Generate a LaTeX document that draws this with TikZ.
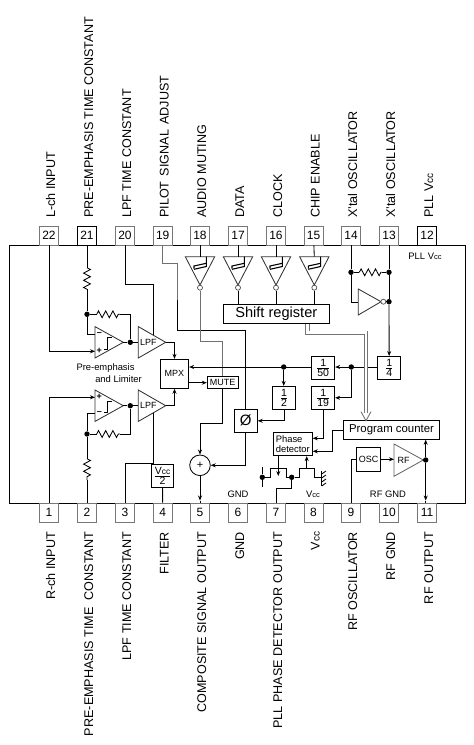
\documentclass[tikz,border=0pt]{standalone}
\usepackage{graphicx}
\usepackage{fontspec}
\setmainfont{Liberation Sans}
\usetikzlibrary{arrows.meta,calc,decorations.pathmorphing}
\newcommand{\fs}[1]{\fontsize{#1}{#1}\selectfont}
\newcommand{\vcc}{V\scalebox{0.8}{cc}}
\newcommand{\ratio}[2]{$\frac{\mbox{#1}}{\mbox{#2}}$}
\definecolor{pinline}{HTML}{777777}
\definecolor{dimline}{HTML}{707070}
\tikzset{
  wire/.style={line width=0.85pt},
  dimwire/.style={line width=0.9pt, draw=dimline},
  flow/.style={-{Stealth[length=5pt,width=4pt]}, line width=0.85pt},
  res/.style={line width=0.85pt, decorate, decoration={zigzag,segment length=7.2pt,amplitude=3.4pt}},
  chipbox/.style={draw, line width=0.9pt, minimum width=455.5pt, minimum height=258pt, inner sep=0pt},
  pinbox/.style={draw=#1, fill=white, line width=0.9pt, minimum width=19pt, minimum height=19pt, inner sep=0pt, font=\fs{12}},
  pinbox/.default=pinline,
  pintext/.style={rotate=90, font=\fs{12.6}, inner sep=0pt, text height=9pt, text depth=0pt},
  block/.style={draw, line width=0.85pt, inner sep=0pt, align=center, font=\fs{9}},
  ratiobox/.style={block, minimum width=23pt, minimum height=23pt, font=\fs{10.5}},
  tag/.style={font=\fs{9.4}, inner sep=0pt},
  tri/.style={draw=black!80, line width=0.85pt},
  junc/.style={circle, fill, inner sep=0pt, minimum size=5.4pt},
  bubble/.style={circle, draw=black!70, fill=white, line width=0.7pt, inner sep=0pt, minimum size=5pt},
  sign/.style={font=\fs{9}\bfseries, inner sep=0pt},
  bus/.style={draw=black!55, line width=0.8pt, double=white, double distance=2.8pt},
  bustip/.style={draw=black!55, line width=0.9pt},
}
\def\pA{49}
\def\pB{87}
\def\pC{125}
\def\pD{162.7}
\def\pE{200}
\def\pF{238}
\def\pG{276}
\def\pH{313.5}
\def\pI{351}
\def\pJ{389}
\def\pK{427}
\newcommand{\toppin}[4][pinline]{%
  \node[pinbox=#1] (t#3) at (#2,235.5) {#3};
  \node[pintext, anchor=west] (lt#3) at (#2+1.5,218) {#4};}
\newcommand{\botpin}[4][pinline]{%
  \node[pinbox=#1] (b#3) at (#2,512.5) {#3};
  \node[pintext, anchor=east] (lb#3) at (#2+1.5,531.7) {#4};}
\newcommand{\schinv}[2]{%
  \begin{scope}[shift={(#2,256.7)}]
    \draw[tri] (-14.7,0) -- (14.7,0) -- (0,28.3) -- cycle;
    \draw[line width=1.1pt] (-6,12) -- (-6,9.3) -- (6.3,6.6); \draw[line width=1.1pt] (-6,12.6) -- (6.3,9.8) -- (6.3,0);
    \coordinate (#1t) at (0,0);
    \node[bubble] (#1b) at (0,31) {};
  \end{scope}}
\newcommand{\opamp}[5]{%
  \begin{scope}[shift={(#2,#3)}]
    \draw[tri] (0,-15.7) -- (0,15.7) -- (28.3,0) -- cycle;
    \draw[wire] (9,6.8) -- (12.5,6.8) -- (12.5,-4.5) -- (16.7,-4.5);
    \coordinate (#1p) at (0,#4); \coordinate (#1m) at (0,#5); \coordinate (#1o) at (28.3,0);
    \node[sign] (#1ps) at (4.3,#4) {+}; \node[sign] (#1ms) at (4.3,#5) {--};
  \end{scope}}
\newcommand{\lpf}[4]{%
  \begin{scope}[shift={(#2,#3)}]
    \draw[tri] (0,-15.7) -- (0,15.7) -- (27.4,0) -- cycle;
    \node[tag, font=\fs{9}, anchor=west] (#1t) at (1.7,0) {LPF};
    \coordinate (#1i) at (0,0); \coordinate (#1o) at (27.4,0); \coordinate (#1c) at (15.4,#4);
  \end{scope}}

\begin{document}
\begin{tikzpicture}[x=1pt,y=-1pt]
  \useasboundingbox (0,0) rectangle (474,745);
  \node[chipbox] (chip) at (237.25,374) {};
  \toppin{\pA}{22}{L-ch INPUT} \toppin[black]{\pB}{21}{PRE-EMPHASIS TIME CONSTANT}
  \toppin{\pC}{20}{LPF TIME CONSTANT} \toppin{\pD}{19}{PILOT\ \hspace{1.7pt}SIGNAL\ \hspace{1.7pt}ADJUST}
  \toppin{\pE}{18}{AUDIO MUTING} \toppin{\pF}{17}{DATA} \toppin{\pG}{16}{CLOCK}
  \toppin{\pH}{15}{CHIP ENABLE} \toppin{\pI}{14}{X'tal OSCILLATOR}
  \toppin{\pJ}{13}{X'tal OSCILLATOR} \toppin[black]{\pK}{12}{PLL \vcc}
  \botpin{\pA}{1}{R-ch INPUT} \botpin{\pB}{2}{PRE-EMPHASIS TIME\ \ CONSTANT}
  \botpin{\pC}{3}{LPF TIME CONSTANT} \botpin{\pD}{4}{FILTER}
  \botpin{\pE}{5}{COMPOSITE SIGNAL OUTPUT} \botpin{\pF}{6}{GND}
  \botpin{\pG}{7}{PLL PHASE DETECTOR OUTPUT} \botpin{\pH}{8}{\vcc}
  \botpin{\pI}{9}{RF OSCILLATOR} \botpin{\pJ}{10}{RF GND} \botpin{\pK}{11}{RF OUTPUT}
  \node[tag] (pllvcc) at (425,256.7) {PLL \vcc};
  \node[tag] (gnd) at (238,494) {GND};
  \node[tag] (vccb) at (313,494) {\vcc};
  \node[tag] (rfgnd) at (388,494) {RF GND};
  \node[tag, font=\fs{9.4}] (pre) at (105.5,368) {Pre-emphasis};
  \node[tag, font=\fs{9.4}] (lim) at (118.5,379) {and Limiter};
  \opamp{upA}{95}{342.3}{9}{-8} \opamp{loA}{95}{405.7}{-8.4}{7.6}
  \lpf{upL}{138.3}{342.3}{-6.9} \lpf{loL}{138.3}{405.7}{6.9}
  \schinv{iE}{\pE} \schinv{iF}{\pF} \schinv{iG}{\pG} \schinv{iH}{314.3}
  \node[block, minimum width=106pt, minimum height=19pt, font=\fs{14.6}] (shift) at (276.3,313.8) {Shift register};
  \node[block, minimum width=28.4pt, minimum height=29pt] (mpx) at (174.5,373.8) {MPX};
  \node[block, minimum width=30.7pt, minimum height=11.6pt] (mute) at (222.6,382.5) {MUTE};
  \node[block, circle, minimum size=20.6pt, font=\fs{11}] (add) at (200,465.3) {+};
  \node[block, minimum width=22.4pt, minimum height=22.6pt, font=\fs{10.5}] (half) at (162.5,476) {\ratio{\vcc}{2}};
  \node[ratiobox] (d4) at (389.2,368) {\ratio{1}{4}};
  \node[ratiobox] (d50) at (323.2,368) {\ratio{1}{50}};
  \node[ratiobox] (d19) at (323.2,397.8) {\ratio{1}{19}};
  \node[ratiobox] (d2) at (284,397.8) {\ratio{1}{2}};
  \node[ratiobox, font=\fs{15}] (phi) at (245.8,420.8) {\O};
  \node[block, minimum width=39pt, minimum height=23.4pt, font=\fs{9.4}, align=left] (pd) at (292.8,444) {Phase\\detector};
  \node[block, minimum width=96.4pt, minimum height=18.6pt, font=\fs{11.4}] (pc) at (391.5,430) {Program counter};
  \node[block, minimum width=24.4pt, minimum height=24pt] (osc) at (368.5,459.3) {OSC};
  \draw[draw=black!60, line width=0.85pt] (394,444) -- (394,476.3) -- (423.3,460) -- cycle;
  \node[tag, font=\fs{9}] (rf) at (403.5,460) {RF};
  \coordinate (rfi) at (394,459.3); \coordinate (rfo) at (423.3,460);
  \node[junc] (jA) at (\pB,314.3) {}; \node[junc] (jB) at (130.3,342.3) {};
  \node[junc] (jC) at (\pB,434) {}; \node[junc] (jD) at (130.3,405.7) {};
  \node[junc] (jE) at (283.7,367) {}; \node[junc] (jF) at (351.3,367) {};
  \node[junc] (jG) at (\pI,272.3) {}; \node[junc] (jH) at (\pJ,272.3) {};
  \node[junc] (jI) at (\pJ,301.7) {}; \node[junc] (jJ) at (425.7,460) {};
  \node[junc] (jK) at (262.3,477.3) {}; \node[junc] (jL) at (291.7,477.3) {};
  \coordinate (rAa) at (\pB,267.7); \coordinate (rAb) at (\pB,289.3);
  \coordinate (rBa) at (96.7,314.3); \coordinate (rBb) at (120,314.3);
  \coordinate (rCa) at (96.7,434); \coordinate (rCb) at (120,434);
  \coordinate (rDa) at (\pB,458.7); \coordinate (rDb) at (\pB,480);
  \coordinate (rEa) at (359.3,272.3); \coordinate (rEb) at (381.7,272.3);
  \draw[flow] (t22) |- (upAp);
  \draw[wire] (t21) -- (rAa); \draw[res] (rAa) -- (rAb); \draw[wire] (rAb) -- (jA) |- (upAm);
  \draw[wire] (jA) -- (rBa); \draw[res] (rBa) -- (rBb); \draw[wire] (rBb) -| (jB);
  \draw[wire] (upAo) -- (jB) -- (upLi);
  \draw[wire] (t20) -- ++(0,49.3) -| (upLc);
  \draw[flow] (upLo) -| (mpx);
  \draw[flow] (b1) |- (loAp);
  \draw[wire] (b2) -- (rDb); \draw[res] (rDa) -- (rDb); \draw[wire] (rDa) -- (jC) |- (loAm);
  \draw[wire] (jC) -- (rCa); \draw[res] (rCa) -- (rCb); \draw[wire] (rCb) -| (jD);
  \draw[wire] (loAo) -- (jD) -- (loLi);
  \draw[wire] (b3) -- ++(0,-48.7) -| (loLc);
  \draw[flow] (loLo) -| (mpx);
  \draw[wire] (half) -- (b4);
  \draw[dimwire] (t19) -- ++(0,28) -| (177,300);
  \draw[wire] (177,300) -- (177,330.3) -| (phi);
  \draw[wire] (t18) -- (iEt); \draw[wire] (t17) -- (iFt); \draw[wire] (t16) -- (iGt); \draw[wire] (t15) -- (iHt);
  \draw[dimwire] (iEb) -- ++(0,53.7) -| (mute);
  \draw[wire] (iFb) -- (iFb |- shift.north); \draw[wire] (iGb) -- (iGb |- shift.north); \draw[wire] (iHb) -- (iHb |- shift.north);
  \draw[flow] ([yshift=-8.9pt]mpx.east) -- ([yshift=-0.2pt]mute.west);
  \draw[wire] (mute) |- (\pE,423.3);
  \draw[flow] (\pE,423.3) -- (add);
  \draw[flow] (phi) |- (add);
  \coordinate (outE) at (\pE,500.5);
  \draw[flow] (add) -- (outE); \draw[wire] (outE) -- (b5);
  \draw[flow] (d4.west |- jF) -- (d50.east |- jF);
  \draw[flow] (d50.west |- jE) -- (mpx.east |- jE);
  \draw[flow] (jE) -- (jE |- d2.north);
  \draw[flow] (jF) |- (d19);
  \draw[flow] (d19) |- ([yshift=5.7pt]pd.east);
  \draw[flow] (d2) |- (phi);
  \draw[flow] (pc.west) -- ++(-10.6,0) |- ([yshift=-7.3pt]pd.east);
  \draw[wire] (t14) -- (jG) -- (rEa); \draw[res] (rEa) -- (rEb); \draw[wire] (rEb) -- (jH);
  \draw[tri] (358.3,289) -- (358.3,315) -- (381,301.7) -- cycle;
  \node[bubble] (iX) at (383.4,301.7) {};
  \draw[wire] (jG) |- (358.3,302);
  \draw[wire] (iX) -- (jI);
  \draw[wire] (t13) -- (jH) -- (jI);
  \draw[flow] (jI) -- (d4);
  \coordinate (busA) at ([xshift=31pt]shift.south); \coordinate (busB) at (366,413);
  \coordinate (busT) at (366,420.7);
  \draw[bus] (busA) -- ++(0,9) -| (busB);
  \draw[bustip] (361,411.7) -- (busT) -- (371,411.7);
  \draw[wire] (b9) |- (osc);
  \draw[flow] (osc.east |- rfi) -- (rfi);
  \draw[wire] (rfo) -- (jJ);
  \draw[flow] (jJ) -- (jJ |- pc.south);
  \coordinate (outK) at (425.7,500.5);
  \draw[flow] (jJ) -- (outK); \draw[wire] (outK) -- (outK |- b11.north);
  \draw[wire] (262.3,467.3) -- (jK) -- (262.3,486.7);
  \draw[wire] (jK) -- (270.7,477.3) -- (270.7,468.3) -- (286,468.3) -- (286,477.3) -- (jL);
  \draw[wire] (jL) -- (299.3,477.3) -- (299.3,468.3) -- (314.3,468.3) -- (314.3,477.3) -- (321.7,477.3);
  \draw[line width=1.2pt] (321.7,471) -- (321.7,486);
  \draw[wire] (321.7,474) -- (326,471) (321.7,478) -- (326,475) (321.7,482) -- (326,479) (321.7,486) -- (326,483);
  \draw[flow] (pd.south -| 278.3,0) -- (278.3,476);
  \draw[flow] (306.7,468.3) -- (pd.south -| 306.7,0);
  \draw[wire] (jL) |- (276,488.3) -- (b7);
\end{tikzpicture}
\end{document}
